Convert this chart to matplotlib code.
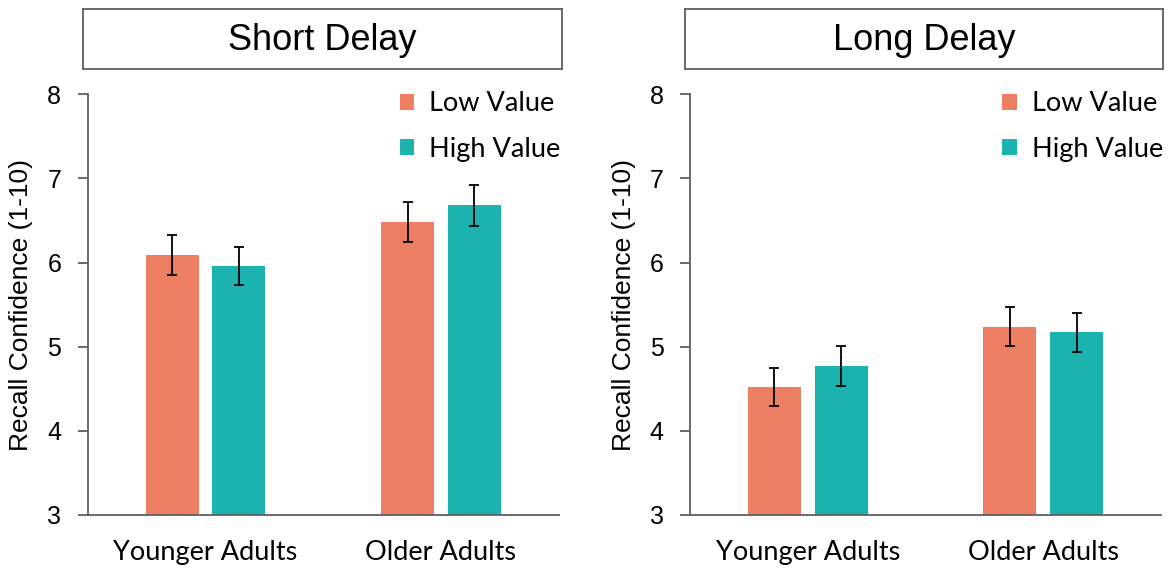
import matplotlib
matplotlib.use("Agg")
import matplotlib.pyplot as plt
import numpy as np

groups = ["Younger Adults", "Older Adults"]
conditions = ["Low Value", "High Value"]
panels = ["Short Delay", "Long Delay"]

# mean recall confidence and standard error, per panel -> [low, high] for each group
short_low = [6.09, 6.48]
short_high = [5.96, 6.68]
short_low_err = [0.24, 0.24]
short_high_err = [0.23, 0.24]

long_low = [4.52, 5.24]
long_high = [4.77, 5.17]
long_low_err = [0.23, 0.23]
long_high_err = [0.24, 0.23]

orange = "#EC7F61"
teal = "#1CB3AE"
spine_col = "#5f5f5f"

plt.rcParams["font.family"] = ["Liberation Sans", "DejaVu Sans"]

fig = plt.figure(figsize=(11.68, 5.68), dpi=100)

axes_pos = [
    [87.7 / 1168, 1 - 515 / 568, 471 / 1168, 420.7 / 568],
    [690 / 1168, 1 - 515 / 568, 471 / 1168, 420.7 / 568],
]
box_pos = [
    [83 / 1168, 1 - 69 / 568, 479 / 1168, 60 / 568],
    [685 / 1168, 1 - 69 / 568, 478 / 1168, 60 / 568],
]

data = [
    (short_low, short_high, short_low_err, short_high_err),
    (long_low, long_high, long_low_err, long_high_err),
]

x = np.arange(len(groups))
width = 0.225
offset = 0.142

for i, (low, high, low_err, high_err) in enumerate(data):
    ax = fig.add_axes(axes_pos[i])
    ax.bar(x - offset, low, width, bottom=0, color=orange, label=conditions[0], zorder=2)
    ax.bar(x + offset, high, width, bottom=0, color=teal, label=conditions[1], zorder=2)
    ax.errorbar(x - offset, low, yerr=low_err, fmt="none", ecolor="black",
                elinewidth=1.3, capsize=3.5, capthick=1.3, zorder=3)
    ax.errorbar(x + offset, high, yerr=high_err, fmt="none", ecolor="black",
                elinewidth=1.3, capsize=3.5, capthick=1.3, zorder=3)

    ax.set_xlim(-0.5, 1.5)
    ax.set_ylim(3, 8)
    ax.set_yticks([3, 4, 5, 6, 7, 8])
    ax.set_xticks(x)
    ax.set_xticklabels(groups, fontfamily="Lato", fontsize=19.5)
    ax.tick_params(axis="x", length=0, pad=18)
    ax.tick_params(axis="y", length=7, width=1.3, color=spine_col, labelsize=18, pad=12)
    for side in ["top", "right"]:
        ax.spines[side].set_visible(False)
    for side in ["left", "bottom"]:
        ax.spines[side].set_color(spine_col)
        ax.spines[side].set_linewidth(1.3)
    ax.set_ylabel("Recall Confidence (1-10)", fontsize=19, labelpad=10)

    ax.legend(loc="upper right", frameon=False,
              prop={"family": "Lato", "size": 19.5},
              handlelength=0.55, handleheight=0.55, handletextpad=0.55,
              labelspacing=0.75, borderaxespad=0.0, bbox_to_anchor=(1.027, 1.033))

    # title in a framed box above each panel
    bax = fig.add_axes(box_pos[i])
    bax.set_xticks([])
    bax.set_yticks([])
    for s in bax.spines.values():
        s.set_color(spine_col)
        s.set_linewidth(1.3)
    bax.text(0.5, 0.48, panels[i], ha="center", va="center", fontsize=26,
             transform=bax.transAxes)

fig.savefig("out.png", dpi=100)
